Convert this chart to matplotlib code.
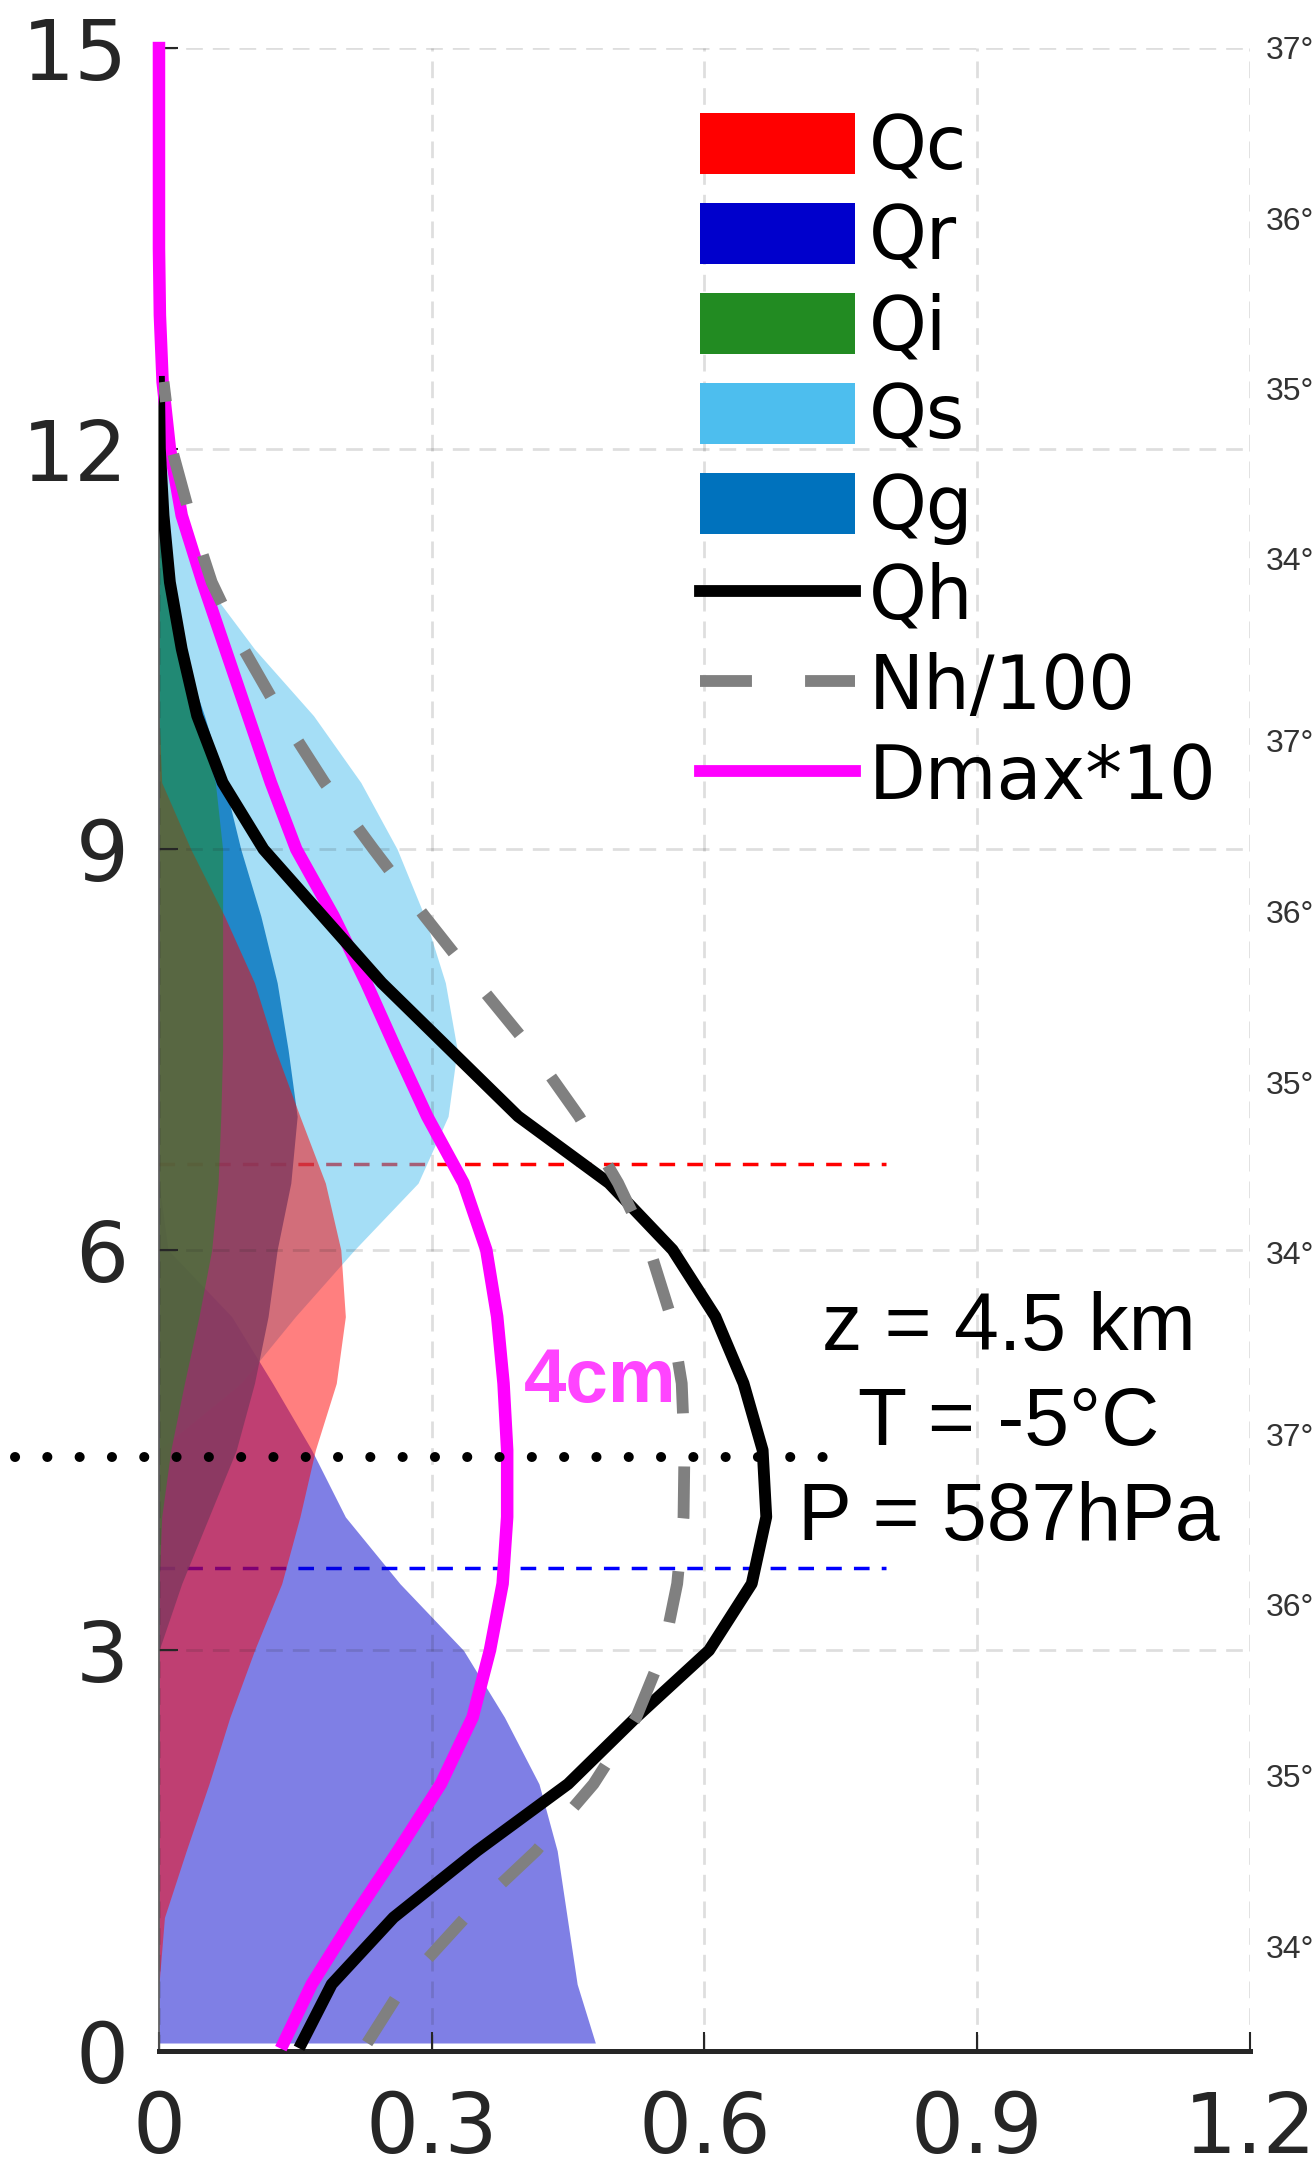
import matplotlib
matplotlib.use("Agg")
import matplotlib.pyplot as plt
from matplotlib.patches import Patch
from matplotlib.lines import Line2D

nan = float("nan")

# heights (km)
z = [0.06, 0.5, 1.0, 1.5, 2.0, 2.5, 3.0, 3.5, 4.0, 4.5, 5.0, 5.5, 6.0, 6.5, 7.0, 7.5,
     8.0, 8.5, 9.0, 9.5, 10.0, 10.5, 11.0, 11.5, 12.0, 12.5, 13.0, 13.5, 14.0, 14.5, 15.0]

# hydrometeor mixing ratios (g/kg)
qc = [0, 0, 0.006, 0.03, 0.055, 0.078, 0.105, 0.135, 0.155, 0.172, 0.195, 0.205, 0.2, 0.183, 0.155, 0.128,
      0.105, 0.072, 0.035, 0.003, 0, 0, 0, 0, 0, 0, 0, 0, 0, 0, 0]
qr = [0.48, 0.46, 0.449, 0.438, 0.418, 0.38, 0.335, 0.265, 0.205, 0.168, 0.125, 0.08, 0.01, 0, 0, 0,
      0, 0, 0, 0, 0, 0, 0, 0, 0, 0, 0, 0, 0, 0, 0]
qi = [0, 0, 0, 0, 0, 0, 0, 0, 0.003, 0.013, 0.028, 0.044, 0.058, 0.065, 0.068, 0.07,
      0.07, 0.07, 0.07, 0.062, 0.04, 0.025, 0.012, 0.004, 0.001, 0, 0, 0, 0, 0, 0]
qs = [0, 0, 0, 0, 0, 0, 0, 0, 0, 0, 0.09, 0.15, 0.215, 0.285, 0.318, 0.328,
      0.315, 0.292, 0.262, 0.222, 0.17, 0.105, 0.05, 0.02, 0.008, 0, 0, 0, 0, 0, 0]
qg = [0, 0, 0, 0, 0, 0, 0, 0.025, 0.055, 0.085, 0.105, 0.12, 0.13, 0.145, 0.152, 0.142,
      0.13, 0.112, 0.09, 0.072, 0.05, 0.025, 0.008, 0.002, 0, 0, 0, 0, 0, 0, 0]
qh = [0.157, 0.19, 0.258, 0.35, 0.45, 0.525, 0.605, 0.652, 0.668, 0.664, 0.643, 0.612, 0.565, 0.495, 0.395, 0.32,
      0.245, 0.18, 0.115, 0.07, 0.042, 0.025, 0.012, 0.005, 0.001, 0, nan, nan, nan, nan, nan]
nh = [0.229, 0.27, 0.337, 0.415, 0.478, 0.525, 0.555, 0.57, 0.577, 0.578, 0.575, 0.563, 0.54, 0.505, 0.462, 0.41,
      0.35, 0.292, 0.236, 0.182, 0.135, 0.093, 0.058, 0.034, 0.014, 0.005, nan, nan, nan, nan, nan]
dmax = [0.137, 0.168, 0.214, 0.263, 0.31, 0.345, 0.364, 0.378, 0.383, 0.383, 0.379, 0.372, 0.36, 0.335, 0.295, 0.261,
        0.228, 0.192, 0.151, 0.123, 0.098, 0.073, 0.048, 0.025, 0.012, 0.004, 0.001, 0, 0, 0, 0]

z_melt = 4.45      # dotted line
z_warm = 6.64      # red dashed
z_rain = 3.62      # blue dashed

xticks = [0, 0.3, 0.6, 0.9, 1.2]
xticklabels = ["0", "0.3", "0.6", "0.9", "1.2"]
yticks = [0, 3, 6, 9, 12, 15]

info_lines = ["z = 4.5 km", "T = -5°C", "P = 587hPa"]
lat_labels = ["37°", "36°", "35°", "34°"]

fig = plt.figure(figsize=(13.16, 21.75), dpi=100)
ax = fig.add_axes([0.1208, 0.0570, 0.8290, 0.9209])

# reference levels
ax.plot([0, 0.8], [z_warm, z_warm], color="#FF0000", lw=2.5, ls=(0, (4.5, 3.5)), zorder=0.5)
ax.plot([0, 0.8], [z_rain, z_rain], color="#0000FF", lw=2.5, ls=(0, (4.5, 3.5)), zorder=0.5)

# hydrometeor fills
ax.fill_betweenx(z, 0, qr, color="#0000CC", alpha=0.5, lw=0, zorder=1)
ax.fill_betweenx(z, 0, qs, color="#4DBEEE", alpha=0.5, lw=0, zorder=1)
ax.fill_betweenx(z, 0, qg, color="#0072BD", alpha=0.8, lw=0, zorder=1)
ax.fill_betweenx(z, 0, qc, color="#FF0000", alpha=0.5, lw=0, zorder=1)
ax.fill_betweenx(z, 0, qi, color="#228B22", alpha=0.5, lw=0, zorder=1)

# hail profiles
ax.plot(dmax, z, color="#FF00FF", lw=9, zorder=3, clip_on=False)
ax.plot(qh, z, color="k", lw=8.5, zorder=3.1)
ax.plot(nh, z, color="#808080", lw=8.5, ls=(0, (4.4, 4.5)), zorder=3.2)

ax.plot([-0.158, 0.758], [z_melt, z_melt], color="k", lw=7.2, ls=(0, (0.01, 3.22)),
        dash_capstyle="round", clip_on=False, zorder=4)

ax.text(0.485, 4.86, "4cm", color="#FF44FF", fontsize=55, fontweight="bold",
        family="Liberation Sans", ha="center", va="baseline", zorder=5)
for i, s in enumerate(info_lines):
    ax.text(0.935, 5.25 - 0.71 * i, s, fontsize=58, family="Liberation Sans",
            ha="center", va="baseline", zorder=5)

ax.set_xlim(0, 1.2)
ax.set_ylim(0, 15)
ax.set_xticks(xticks)
ax.set_xticklabels(xticklabels)
ax.set_yticks(yticks)
ax.set_axisbelow("line")
ax.grid(True, color="#262626", alpha=0.15, lw=2, ls=(0, (6, 3.6)))
ax.tick_params(direction="in", length=14, width=1.5, colors="#262626", labelsize=60)
ax.tick_params(axis="x", pad=27)
ax.tick_params(axis="y", pad=22)
for sp in ["top", "right"]:
    ax.spines[sp].set_visible(False)
ax.spines["bottom"].set_linewidth(3.6)
ax.spines["bottom"].set_color("#262626")
ax.spines["left"].set_linewidth(1.2)
ax.spines["left"].set_color("#555555")

handles = [
    Patch(facecolor="#FF0000", edgecolor="none", label="Qc"),
    Patch(facecolor="#0000CC", edgecolor="none", label="Qr"),
    Patch(facecolor="#228B22", edgecolor="none", label="Qi"),
    Patch(facecolor="#4DBEEE", edgecolor="none", label="Qs"),
    Patch(facecolor="#0072BD", edgecolor="none", label="Qg"),
    Line2D([], [], color="k", lw=8.5, label="Qh"),
    Line2D([], [], color="#808080", lw=8.5, ls=(0, (4.4, 4.5)), label="Nh/100"),
    Line2D([], [], color="#FF00FF", lw=8.5, label="Dmax*10"),
]
ax.legend(handles=handles, loc="upper left", bbox_to_anchor=(0.496, 0.968), frameon=False,
          fontsize=53, borderpad=0, borderaxespad=0, handlelength=2.1, handleheight=0.9,
          labelspacing=0.23, handletextpad=0.19)

# latitude labels of the neighbouring panel
for g in range(3):
    for j, s in enumerate(lat_labels):
        ypix = 51 + 693.5 * g + 170.5 * j
        fig.text(0.962, 1 - ypix / 2175, s, fontsize=23, family="Liberation Sans",
                 color="#333333", ha="left", va="center")

fig.savefig("out.png", dpi=100)
